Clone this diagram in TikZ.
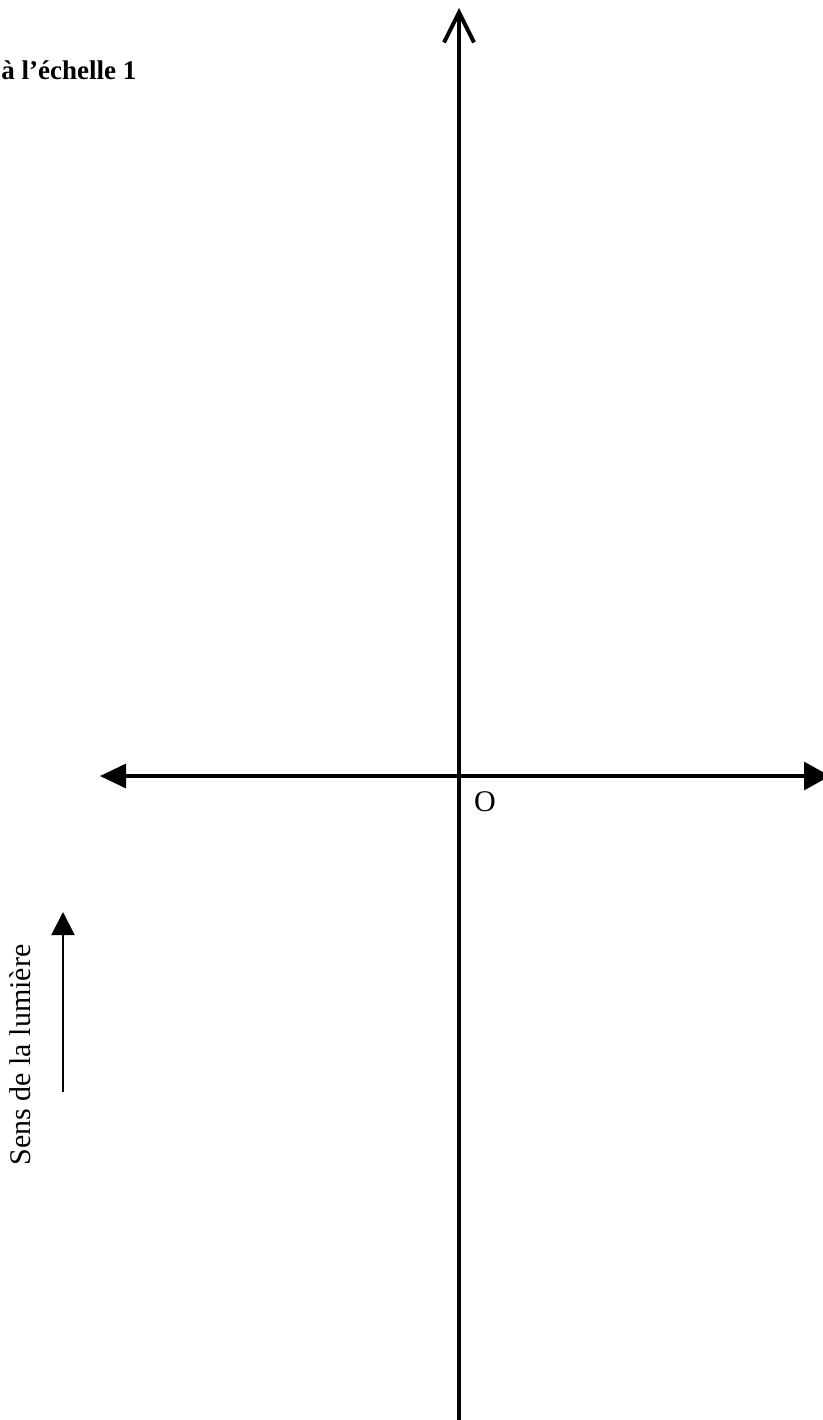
\documentclass[tikz,border=0pt]{standalone}
\usepackage{fontspec}
\setmainfont{Liberation Serif}
\usetikzlibrary{positioning, arrows.meta}

\begin{document}
\begin{tikzpicture}[x=0.5pt,y=-0.5pt,
  axis/.style={line width=1.7pt},
  lbl/.style={inner sep=0pt,font=\fontsize{15}{18}\selectfont}]
  \useasboundingbox (0,0) rectangle (823,1420);
  \coordinate (O) at (459,776);
  \coordinate (xmin) at (100,776);
  \coordinate (xmax) at (830,776);
  \coordinate (ymin) at (459,1420);
  \coordinate (ymax) at (459,8);
  \draw[axis,{Triangle[length=13pt,width=12pt]}-{Triangle[length=13pt,width=14pt]}] (xmin) -- (xmax);
  \draw[axis,line width=2pt,-{Straight Barb[length=15pt,width=15pt]}] (ymin) -- (ymax);
  \node[lbl] (olab) at (485,802) {O};
  % sens de la lumiere
  \coordinate (s1) at (63,1092);
  \coordinate (s2) at (63,912);
  \draw[line width=1pt,-{Triangle[length=11.5pt,width=11.5pt]}] (s1) -- (s2);
  \node[lbl,rotate=90] (sens) at (20,1055) {Sens de la lumière};
  \node[inner sep=0pt,anchor=base west,font=\bfseries\fontsize{13.5}{16}\selectfont] (titre) at (1,79) {à l'échelle 1};
\end{tikzpicture}
\end{document}
